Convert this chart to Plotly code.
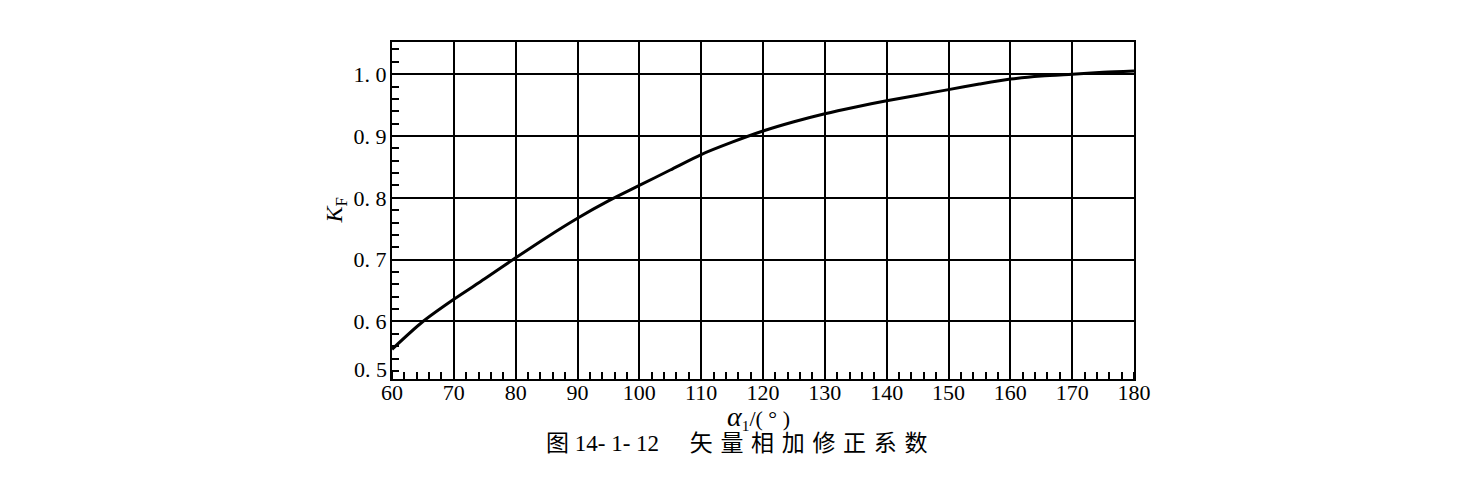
import plotly.graph_objects as go

# Data
alpha = [60, 65, 70, 75, 80, 85, 90, 95, 100, 105, 110, 115, 120, 125, 130,
         135, 140, 145, 150, 155, 160, 165, 170, 175, 180]
kf = [0.555, 0.600, 0.636, 0.669, 0.703, 0.736, 0.767, 0.795, 0.820, 0.845,
      0.870, 0.890, 0.908, 0.923, 0.936, 0.947, 0.957, 0.966, 0.975, 0.984,
      0.992, 0.997, 1.000, 1.003, 1.005]

x_ticks = [60, 70, 80, 90, 100, 110, 120, 130, 140, 150, 160, 170, 180]
y_ticks = [0.6, 0.7, 0.8, 0.9, 1.0]
y_ticktext = ["0. 6", "0. 7", "0. 8", "0. 9", "1. 0"]
y_bottom_label = "0. 5"

serif = "Liberation Serif, Times New Roman, Noto Sans CJK SC, serif"

fig = go.Figure()
fig.add_trace(go.Scatter(
    x=alpha, y=kf, mode="lines",
    line=dict(color="black", width=3, shape="spline", smoothing=0.8),
    showlegend=False, hoverinfo="skip",
))

axis_common = dict(
    showline=True, linecolor="black", linewidth=2, mirror=True,
    showgrid=True, gridcolor="black", gridwidth=2,
    zeroline=False, ticks="",
    tickfont=dict(family=serif, size=22, color="black"),
)

fig.update_xaxes(
    range=[60, 180], tickvals=x_ticks, ticktext=[str(v) for v in x_ticks],
    ticklabelstandoff=-7,
    minor=dict(ticks="inside", ticklen=7, tickwidth=2, tickcolor="black",
               dtick=2, tick0=60, showgrid=False),
    **axis_common,
)
fig.update_yaxes(
    range=[0.507, 1.052], tickvals=y_ticks, ticktext=y_ticktext,
    ticklabelstandoff=-1,
    minor=dict(ticks="inside", ticklen=7, tickwidth=2, tickcolor="black",
               dtick=0.02, tick0=0.5, showgrid=False),
    **axis_common,
)

# bottom y label sits just above the x axis, as in the reference
fig.add_annotation(
    text=y_bottom_label, xref="paper", yref="paper",
    x=0, y=0.027, xanchor="right", yanchor="middle", xshift=-3,
    showarrow=False, font=dict(family=serif, size=22, color="black"),
)
fig.add_annotation(
    text="<i>K</i><sub>F</sub>", xref="paper", yref="paper",
    x=-0.0768, y=0.50, xanchor="center", yanchor="middle",
    showarrow=False, textangle=-90,
    font=dict(family=serif, size=24, color="black"),
)
fig.add_annotation(
    text="<span style='font-size:28px'><i>α</i></span><sub>1</sub>/( ° )",
    xref="paper", yref="paper",
    x=0.494, y=-0.113, xanchor="center", yanchor="middle", showarrow=False,
    font=dict(family=serif, size=22, color="black"),
)
caption = "图 14- 1- 12\u3000\u2004矢\u2004量\u2004相\u2004加\u2004修\u2004正\u2004系\u2004数"
fig.add_annotation(
    text=caption, xref="paper", yref="paper",
    x=0.464, y=-0.19, xanchor="center", yanchor="middle", showarrow=False,
    font=dict(family=serif, size=23, color="black"),
)

fig.update_layout(
    width=1457, height=504,
    margin=dict(l=384, r=331, t=34, b=133),
    paper_bgcolor="white", plot_bgcolor="white",
)

fig.write_html("out.html")
